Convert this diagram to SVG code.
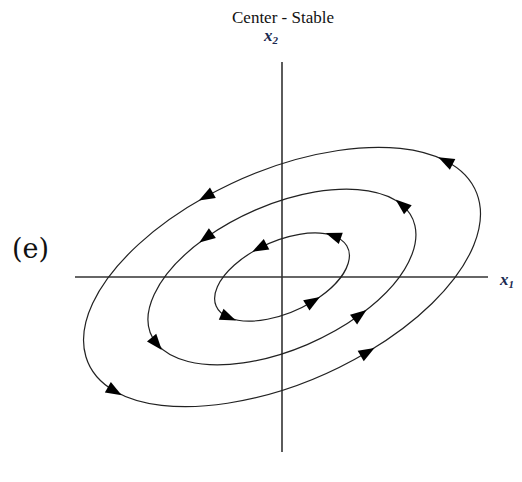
<svg xmlns="http://www.w3.org/2000/svg" width="522" height="482" viewBox="0 0 522 482">
<style>
.axis{stroke:#333;stroke-width:1.6;fill:none}
.orbit{stroke:#222;stroke-width:1.2;fill:none;marker-mid:url(#ah);marker-end:url(#ah)}
.title{font-family:"Liberation Serif",serif;font-size:17px;fill:#111}
.var{font-family:"Liberation Serif",serif;font-style:italic;font-weight:bold;font-size:17px;fill:#1a2a50}
.lbl{font-family:"DejaVu Serif",serif;font-size:27px;fill:#111}
</style>
<defs>
<marker id="ah" markerUnits="userSpaceOnUse" markerWidth="18" markerHeight="14" viewBox="0 0 18 14" refX="9" refY="7" orient="auto">
<path d="M1,1 L17,7 L1,13 z" fill="#000"/>
</marker>
</defs>
<g id="title"><text class="title" x="283" y="23" text-anchor="middle">Center - Stable</text></g>
<g id="label-e"><text class="lbl" x="12" y="258">(e)</text></g>
<g id="axes">
<line class="axis" x1="282" y1="62" x2="282" y2="452"/>
<line class="axis" x1="75" y1="277" x2="488" y2="277"/>
<text class="var" x="264" y="41">x<tspan font-size="11" dy="3">2</tspan></text>
<text class="var" x="500" y="285">x<tspan font-size="11" dy="3">1</tspan></text>
</g>
<g id="connectors" transform="translate(282,277) rotate(-24)">
<path id="outer" class="orbit" d="M196.6,-39.7 A212 106 0 0 0 -36.8,-104.4 A212 106 0 0 0 -199.2,36.3 A212 106 0 0 0 47.7,103.3 A212 106 0 0 0 196.6,-39.7"/>
<path id="middle" class="orbit" d="M138.8,-17.4 A143 72 0 0 0 -53.6,-66.8 A143 72 0 0 0 -141.6,10.0 A143 72 0 0 0 55.9,66.3 A143 72 0 0 0 138.8,-17.4"/>
<path id="inner" class="orbit" d="M63.6,-16.9 A72 36 0 0 0 -8.8,-35.7 A72 36 0 0 0 -65.3,15.2 A72 36 0 0 0 18.6,34.8 A72 36 0 0 0 63.6,-16.9"/>
</g>
</svg>
